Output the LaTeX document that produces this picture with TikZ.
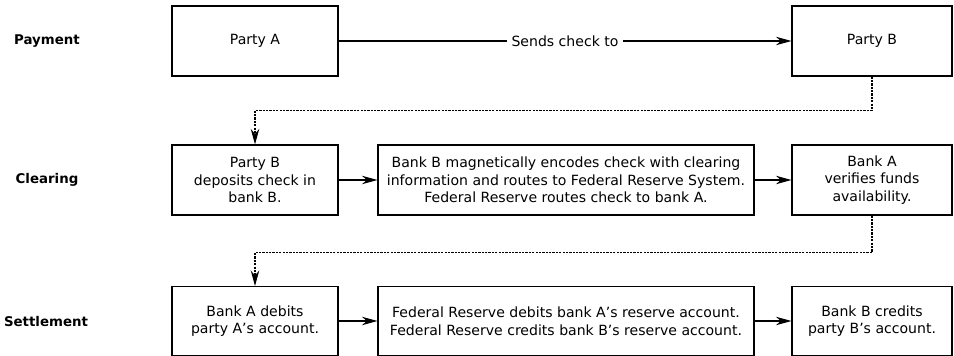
\documentclass[tikz,border=0pt]{standalone}
\usepackage{fontspec}
\setmainfont{DejaVu Sans}
\usetikzlibrary{arrows.meta}
\begin{document}
\begin{tikzpicture}[
  box/.style={draw, line width=0.8pt, align=center, inner sep=2pt,
    font=\fontsize{10}{12.5}\selectfont},
  stage/.style={font=\fontsize{9.5}{11}\selectfont\bfseries},
  flow/.style={line width=0.8pt, -{Stealth[length=11pt,width=6pt,inset=3.5pt]}},
  flowdot/.style={flow, dash pattern=on 1.6pt off 0.8pt}
]
\useasboundingbox (0,0) rectangle (23.85,-8.9);
\node[stage] (pay) at (1.175,-1.025) {Payment};
\node[stage] (clr) at (1.175,-4.5) {Clearing};
\node[stage] (stl) at (1.15,-8.05) {Settlement};
\node[box, minimum width=4.15cm, minimum height=1.75cm] (pa) at (6.375,-1.025) {Party A};
\node[box, minimum width=4.0cm, minimum height=1.75cm] (pb) at (21.8,-1.025) {Party B};
\node[box, minimum width=4.15cm, minimum height=1.75cm] (dep) at (6.375,-4.5)
{Party B\\deposits check in\\bank B.};
\node[box, minimum width=9.4cm, minimum height=1.75cm] (enc) at (14.15,-4.5)
{Bank B magnetically encodes check with clearing\\information and routes to Federal Reserve System.\\Federal Reserve routes check to bank A.};
\node[box, minimum width=4.0cm, minimum height=1.75cm] (ver) at (21.8,-4.5)
{Bank A\\verifies funds\\availability.};
\node[box, minimum width=4.15cm, minimum height=1.72cm] (deb) at (6.375,-8.025)
{Bank A debits\\party A’s account.};
\node[box, minimum width=9.4cm, minimum height=1.72cm] (res) at (14.15,-8.025)
{Federal Reserve debits bank A’s reserve account.\\Federal Reserve credits bank B’s reserve account.};
\node[box, minimum width=4.0cm, minimum height=1.72cm] (cre) at (21.8,-8.025)
{Bank B credits\\party B’s account.};
\draw[flow] (pa) -- node[fill=white, inner sep=3pt, font=\fontsize{10}{12}\selectfont] (snd) {Sends check to} (pb);
\draw[flowdot] (pb.south) -- ++(0,-0.85) -| (dep.north);
\draw[flow] (dep) -- (enc);
\draw[flow] (enc) -- (ver);
\draw[flowdot] (ver.south) -- ++(0,-0.925) -| (deb.north);
\draw[flow] (deb) -- (res);
\draw[flow] (res) -- (cre);
\end{tikzpicture}
\end{document}
